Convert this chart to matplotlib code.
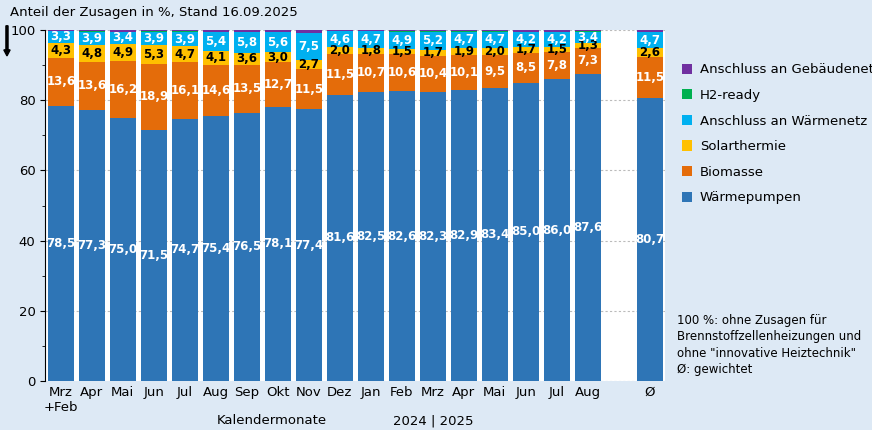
import numpy as np
import matplotlib.pyplot as plt

months = ["Mrz\n+Feb", "Apr", "Mai", "Jun", "Jul", "Aug", "Sep", "Okt", "Nov", "Dez",
          "Jan", "Feb", "Mrz", "Apr", "Mai", "Jun", "Jul", "Aug", "", "Ø"]
waermepumpen = [78.5, 77.3, 75.0, 71.5, 74.7, 75.4, 76.5, 78.1, 77.4, 81.6,
                82.5, 82.6, 82.3, 82.9, 83.4, 85.0, 86.0, 87.6, 0, 80.7]
biomasse = [13.6, 13.6, 16.2, 18.9, 16.1, 14.6, 13.5, 12.7, 11.5, 11.5,
            10.7, 10.6, 10.4, 10.1, 9.5, 8.5, 7.8, 7.3, 0, 11.5]
solar = [4.3, 4.8, 4.9, 5.3, 4.7, 4.1, 3.6, 3.0, 2.7, 2.0,
         1.8, 1.5, 1.7, 1.9, 2.0, 1.7, 1.5, 1.3, 0, 2.6]
waermenetz = [3.3, 3.9, 3.4, 3.9, 3.9, 5.4, 5.8, 5.6, 7.5, 4.6,
              4.7, 4.9, 5.2, 4.7, 4.7, 4.2, 4.2, 3.4, 0, 4.7]
h2 = [0.1, 0.1, 0.1, 0.1, 0.3, 0.1, 0.1, 0.1, 0.1, 0.1,
      0.1, 0.1, 0.1, 0.1, 0.1, 0.1, 0.1, 0.1, 0, 0.1]
gebaeudenetz = [0.2, 0.3, 0.4, 0.3, 0.3, 0.4, 0.5, 0.5, 0.8, 0.2,
                0.2, 0.3, 0.3, 0.3, 0.3, 0.5, 0.4, 0.3, 0, 0.4]

series = [
    ("Wärmepumpen", waermepumpen, "#2e75b6", "white"),
    ("Biomasse", biomasse, "#e46c0a", "white"),
    ("Solarthermie", solar, "#ffc000", "black"),
    ("Anschluss an Wärmenetz", waermenetz, "#00b0f0", "white"),
    ("H2-ready", h2, "#00b050", None),
    ("Anschluss an Gebäudenetz", gebaeudenetz, "#7030a0", None),
]

bg = "#dde9f5"
fig = plt.figure(figsize=(8.72, 4.30), dpi=100, facecolor=bg)
ax = fig.add_axes([0.052, 0.114, 0.711, 0.816])
ax.set_facecolor("white")

x = np.arange(len(months))
bottom = np.zeros(len(months))
for name, vals, col, tcol in series:
    vals = np.array(vals)
    ax.bar(x, vals, 0.86, bottom=bottom, color=col, label=name, zorder=2)
    if tcol:
        for xi, b, v in zip(x, bottom, vals):
            if v > 0:
                ax.text(xi, b + v / 2, f"{v:.1f}".replace(".", ","), ha="center", va="center",
                        color=tcol, fontsize=8.5, fontweight="bold", zorder=3,
                        family=["Liberation Sans Narrow", "DejaVu Sans"])
    bottom += vals

ax.set_xlim(-0.5, len(months) - 0.5)
ax.set_ylim(0, 100)
ax.set_yticks(range(0, 101, 20))
ax.set_yticks(range(0, 101, 10), minor=True)
ax.set_xticks(x)
ax.set_xticklabels(months, fontsize=9.5)
ax.tick_params(axis="x", length=0)
ax.tick_params(axis="y", labelsize=9.5)
ax.yaxis.grid(True, linestyle=(0, (2, 2)), color="#bbbbbb", linewidth=0.8, zorder=0)
for s in ["top", "right", "bottom"]:
    ax.spines[s].set_visible(False)

ax.text(6.8, -9.5, "Kalendermonate", fontsize=9.5, ha="center", va="top")
ax.text(12.0, -9.5, "2024 | 2025", fontsize=9.5, ha="center", va="top")

fig.text(0.012, 0.985, "Anteil der Zusagen in %, Stand 16.09.2025", fontsize=9.5, va="top")
fig.patches.append(plt.Arrow(0.008, 0.94, 0, -0.07, width=0.012, color="black",
                             transform=fig.transFigure, figure=fig))

h, l = ax.get_legend_handles_labels()
fig.legend(h[::-1], l[::-1], loc="upper left", bbox_to_anchor=(0.768, 0.88), frameon=False,
           fontsize=9.5, handlelength=0.8, handleheight=0.8, handletextpad=0.6,
           labelspacing=0.95)

fig.text(0.776, 0.27, "100 %: ohne Zusagen für\nBrennstoffzellenheizungen und\nohne \"innovative Heiztechnik\"\nØ: gewichtet",
         fontsize=8.5, va="top", linespacing=1.35)

fig.savefig("out.png", dpi=100, facecolor=bg)
